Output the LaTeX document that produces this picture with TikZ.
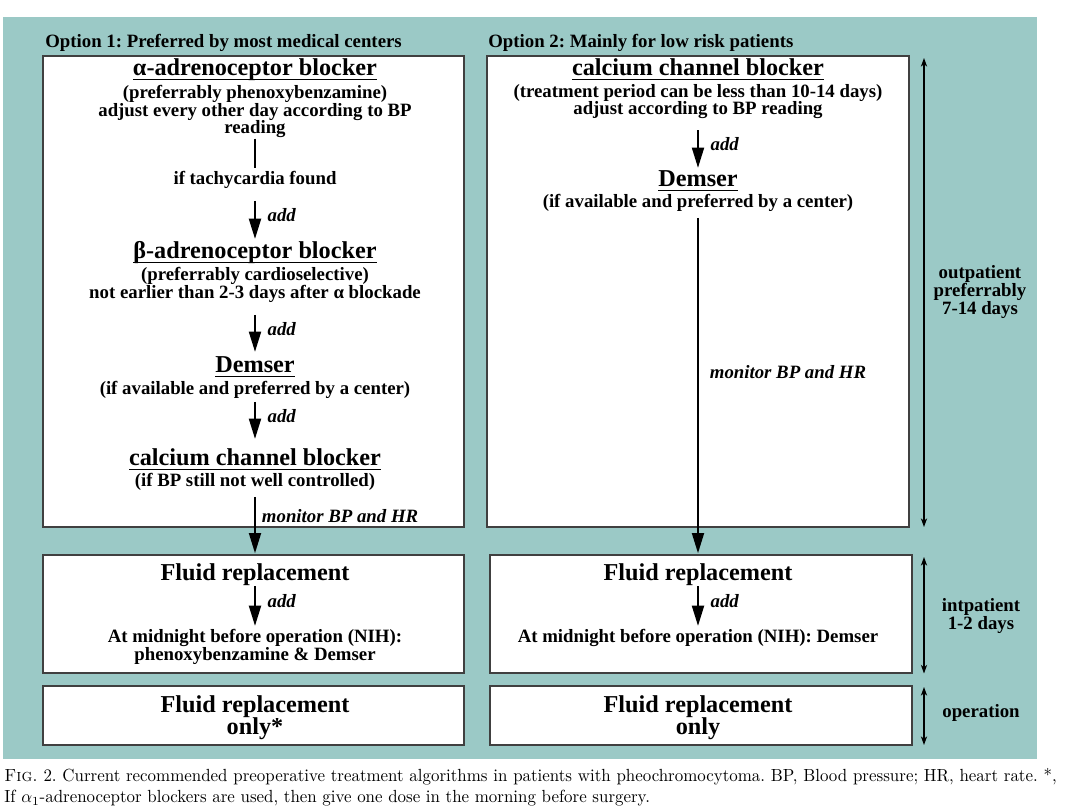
\documentclass[tikz,border=0pt]{standalone}
\usepackage{fontspec}
\newfontfamily\tms{Liberation Serif}
\usetikzlibrary{positioning, arrows.meta, fit, calc}
\definecolor{bgteal}{RGB}{155,201,198}
\newcommand{\hdul}[1]{\setbox0\hbox{#1}\rlap{\vrule height -1.8pt depth 2.5pt width \wd0}\box0}
\frenchspacing

\tikzset{
	panel/.style={draw=black!75, line width=1pt, fill=white, inner sep=0pt},
	txt/.style={font=\tms\bfseries\fontsize{10.7}{10.2}\selectfont, inner sep=0pt, anchor=mid, text height=7.5pt, text depth=2.5pt},
	head/.style={font=\tms\bfseries\fontsize{13.8}{14}\selectfont, inner sep=0pt, anchor=mid, text height=9.8pt, text depth=3pt},
	optlbl/.style={font=\tms\bfseries\fontsize{10.7}{11}\selectfont, inner sep=0pt, anchor=mid west},
	addlbl/.style={font=\tms\bfseries\itshape\fontsize{10.7}{11}\selectfont, inner sep=0pt},
	sidelbl/.style={font=\tms\bfseries\fontsize{10.7}{10.2}\selectfont, inner sep=0pt, align=center},
	capt/.style={font=\fontsize{10}{11.9}\selectfont, inner sep=0pt, text width=622pt, align=justify, xscale=0.963, transform shape},
	arr/.style={-{Triangle[length=11.5pt,width=6.8pt]}, line width=1.15pt},
	stem/.style={line width=1.15pt},
	span/.style={{Stealth[length=5pt,width=3.6pt]}-{Stealth[length=5pt,width=3.6pt]}, line width=0.6pt},
}

\begin{document}
\begin{tikzpicture}[x=0.02cm, y=-0.02cm]
	\useasboundingbox (0,0) rectangle (1080,810);
	\fill[bgteal] (3,17) rectangle (1037,759);
	
	%Panels
	\node[panel, fit={(43,56) (464,527)}] (top1) {};
	\node[panel, fit={(487,56) (909,527)}] (top2) {};
	\node[panel, fit={(43,555) (464,673)}] (mid1) {};
	\node[panel, fit={(490,555) (912,673)}] (mid2) {};
	\node[panel, fit={(43,686) (464,745)}] (bot1) {};
	\node[panel, fit={(490,686) (912,745)}] (bot2) {};
	
	%Option 1
	\node[optlbl] (opt1) at (45,44) {Option 1: Preferred by most medical centers};
	\node[head] (alpha) at (255,72) {\hdul{α-adrenoceptor blocker}};
	\node[txt] (alphasub1) at (255,95) {(preferrably phenoxybenzamine)};
	\node[txt] (alphasub2) at (255,112.5) {adjust every other day according to BP};
	\node[txt] (alphasub3) at (255,129.5) {reading};
	\node[txt] (tachy) at (255,180.5) {if tachycardia found};
	\node[head] (beta) at (255,255) {\hdul{β-adrenoceptor blocker}};
	\node[txt] (betasub1) at (255,277) {(preferrably cardioselective)};
	\node[txt] (betasub2) at (255,294.5) {not earlier than 2-3 days after α blockade};
	\node[head] (dem1) at (255,369) {\hdul{Demser}};
	\node[txt] (dem1sub) at (255,391) {(if available and preferred by a center)};
	\node[head] (ccb1) at (255,462) {\hdul{calcium channel blocker}};
	\node[txt] (ccb1sub) at (255,483) {(if BP still not well controlled)};
	
	%Option 2
	\node[optlbl] (opt2) at (488,44) {Option 2: Mainly for low risk patients};
	\node[head] (ccb2) at (698,71.7) {\hdul{calcium channel blocker}};
	\node[txt] (ccb2sub1) at (698,93.3) {(treatment period can be less than 10-14 days)};
	\node[txt] (ccb2sub2) at (698,111) {adjust according to BP reading};
	\node[head] (dem2) at (698,182.7) {\hdul{Demser}};
	\node[txt] (dem2sub) at (698,204) {(if available and preferred by a center)};
	
	%Inpatient and operation
	\node[head] (fluid1) at (255,576.7) {Fluid replacement};
	\node[txt] (night1a) at (255,639) {At midnight before operation (NIH):};
	\node[txt] (night1b) at (255,656.7) {phenoxybenzamine \& Demser};
	\node[head] (fluid2) at (698,576.7) {Fluid replacement};
	\node[txt] (night2) at (698,639) {At midnight before operation (NIH): Demser};
	\node[head] (only1a) at (255,708.3) {Fluid replacement};
	\node[head] (only1b) at (255,730.7) {only*};
	\node[head] (only2a) at (698,708.3) {Fluid replacement};
	\node[head] (only2b) at (698,730.7) {only};
	
	%Arrows
	\draw[stem, shorten <=0.4pt, shorten >=1.5pt] (alphasub3) -- (tachy);
	\draw[arr, shorten <=6.7pt, shorten >=1.3pt] (tachy) -- node[addlbl, right=6.6pt] {add} (beta);
	\draw[arr, shorten <=6.7pt, shorten >=1.9pt] (betasub2) -- node[addlbl, right=6.6pt] {add} (dem1);
	\draw[arr, shorten <=1.3pt, shorten >=5.3pt] (dem1sub) -- node[addlbl, pos=0.35, right=6.6pt] {add} (ccb1);
	\draw[arr, shorten <=3pt, shorten >=0.5pt] (ccb1sub.south) -- node[addlbl, pos=0.4, right=3.4pt] {monitor BP and HR} (ccb1sub.south |- mid1.north);
	\draw[arr, shorten <=6.2pt, shorten >=0.6pt] (ccb2sub2) -- node[addlbl, right=6.6pt] {add} (dem2);
	\draw[arr, shorten <=3.1pt, shorten >=0.5pt] (dem2sub.south) -- node[addlbl, pos=0.467, right=6.2pt] {monitor BP and HR} (dem2sub.south |- mid2.north);
	\draw[arr, shorten >=1.9pt] (fluid1) -- node[addlbl, pos=0.35, right=6.6pt] {add} (night1a);
	\draw[arr, shorten >=1.9pt] (fluid2) -- node[addlbl, pos=0.35, right=6.6pt] {add} (night2);
	
	%Time spans
	\coordinate (outtop) at (924,58);
	\coordinate (outbot) at (924,527);
	\coordinate (intop) at (924,557);
	\coordinate (inbot) at (924,673.5);
	\coordinate (optop) at (924,687);
	\coordinate (opbot) at (924,745);
	\draw[span] (outtop) -- (outbot);
	\draw[span] (intop) -- (inbot);
	\draw[span] (optop) -- (opbot);
	\node[sidelbl] (outlbl) at (980,292) {outpatient\\preferrably\\7-14 days};
	\node[sidelbl] (inlbl) at (981,616) {intpatient\\1-2 days};
	\node[sidelbl] (oplbl) at (981,713) {operation};
	
	%Caption
	\node[capt, anchor=north west] (cap) at (4,768) {\textsc{Fig.}~2. Current recommended preoperative treatment algorithms in patients with pheochromocytoma. BP, Blood pressure; HR, heart rate. *,\linebreak If $\alpha_1$-adrenoceptor blockers are used, then give one dose in the morning before surgery.};
\end{tikzpicture}
\end{document}
